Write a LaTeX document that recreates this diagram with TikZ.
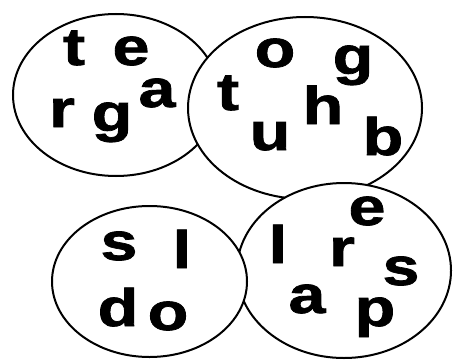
\documentclass[tikz,border=0pt]{standalone}
\usepackage{fontspec}
\setmainfont{Liberation Sans}
\newfontfamily\heavy{Liberation Sans}[BoldFeatures={FakeBold=1.3}]
\newcommand{\wideglyph}[1]{\scalebox{1.25}[1]{#1}}
\begin{document}
\begin{tikzpicture}[x=1pt,y=-1pt,
  ring/.style={draw=black,fill=white,line width=2pt},
  letter/.style={anchor=base,inner sep=0pt,font=\fontsize{53}{53}\heavy\bfseries}]
\useasboundingbox (0,0) rectangle (454,361);
% ellipses, drawn in stacking order
\draw[ring] (116,95) ellipse [x radius=103, y radius=81];
\draw[ring] (305,108) ellipse [x radius=117, y radius=91];
\draw[ring] (344,270.5) ellipse [x radius=107, y radius=87.5];
\draw[ring] (149.5,281.5) ellipse [x radius=97.5, y radius=75.5];
% top-left
\node[letter] (tl1) at (74,65) {\wideglyph{t}};
\node[letter] (tl2) at (131,65) {\wideglyph{e}};
\node[letter] (tl3) at (157,107) {\wideglyph{a}};
\node[letter] (tl4) at (62,127) {\wideglyph{r}};
\node[letter] (tl5) at (112,131) {\wideglyph{g}};
% top-right
\node[letter] (tr1) at (275,67) {\wideglyph{o}};
\node[letter] (tr2) at (353,74) {\wideglyph{g}};
\node[letter] (tr3) at (228,110) {\wideglyph{t}};
\node[letter] (tr4) at (323,124) {\wideglyph{h}};
\node[letter] (tr5) at (270,150) {\wideglyph{u}};
\node[letter] (tr6) at (383,155) {\wideglyph{b}};
% bottom-left
\node[letter] (bl1) at (119,260) {\wideglyph{s}};
\node[letter] (bl2) at (182,268) {\wideglyph{l}};
\node[letter] (bl3) at (118,326) {\wideglyph{d}};
\node[letter] (bl4) at (168,330) {\wideglyph{o}};
% bottom-right
\node[letter] (br1) at (367,225) {\wideglyph{e}};
\node[letter] (br2) at (278,263) {\wideglyph{l}};
\node[letter] (br3) at (342,266) {\wideglyph{r}};
\node[letter] (br4) at (401,285) {\wideglyph{s}};
\node[letter] (br5) at (307,313) {\wideglyph{a}};
\node[letter] (br6) at (375,326) {\wideglyph{p}};
\end{tikzpicture}
\end{document}
